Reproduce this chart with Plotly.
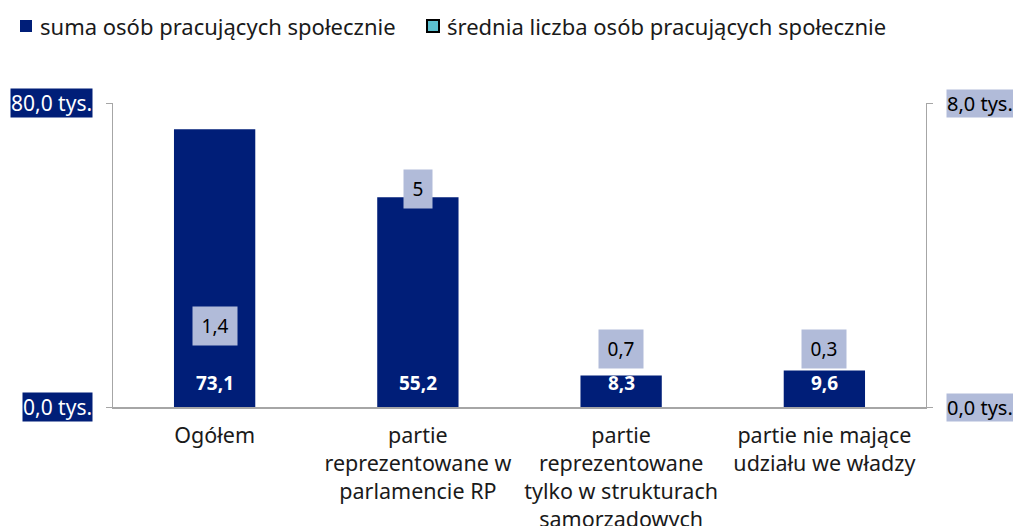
import plotly.graph_objects as go

categories = ["Ogółem", "partie<br>reprezentowane w<br>parlamencie RP",
              "partie<br>reprezentowane<br>tylko w strukturach<br>samorządowych",
              "partie nie mające<br>udziału we władzy"]
suma = [73.1, 55.2, 8.3, 9.6]          # tys.
srednia = [1.4, 5, 0.7, 0.3]
srednia_labels = ["1,4", "5", "0,7", "0,3"]
left_ticks = [0, 80]
left_tick_labels = ["0,0 tys.", "80,0 tys."]
right_ticks = [0, 8]
right_tick_labels = ["0,0 tys.", "8,0 tys."]
series_names = ["suma osób pracujących społecznie", "średnia liczba osób pracujących społecznie"]

NAVY = "#001E78"
LGRAY = "#B1BBD9"
CYAN = "#5BC0CF"
TXT = "#1a1a1a"
FONT = "Noto Sans"

fig = go.Figure()
fig.add_trace(go.Bar(x=categories, y=suma, name=series_names[0], marker_color=NAVY,
                     marker_line_width=0, width=0.4, yaxis="y", showlegend=False))
fig.add_trace(go.Scatter(x=categories, y=srednia, yaxis="y2", mode="markers", name=series_names[1],
                         marker=dict(size=0.1, opacity=0), showlegend=False, hoverinfo="skip"))

ann = []
shapes = []
# manual legend
leg_x = [-93, 314]
leg_fill = [NAVY, CYAN]
leg_line = [NAVY, "black"]
for name, lx, fc, lc in zip(series_names, leg_x, leg_fill, leg_line):
    shapes.append(dict(type="rect", xref="paper", yref="paper", xsizemode="pixel", ysizemode="pixel",
                       xanchor=0, yanchor=1, x0=lx, x1=lx + 12, y0=71, y1=83,
                       fillcolor=fc, line=dict(color=lc, width=2 if lc == "black" else 0)))
    ann.append(dict(x=0, y=1, xref="paper", yref="paper", text=name, showarrow=False,
                    xanchor="left", yanchor="middle", xshift=lx + 18, yshift=77,
                    font=dict(family=FONT, size=22, color=TXT)))

for c, v in zip(categories, suma):
    ann.append(dict(x=c, y=0, xref="x", yref="y", text="<b>" + f"{v:.1f}".replace(".", ",") + "</b>",
                    showarrow=False, yanchor="middle", yshift=24,
                    font=dict(family=FONT, size=19, color="white")))
for c, v, t in zip(categories, srednia, srednia_labels):
    ann.append(dict(x=c, y=max(v, 0.8), xref="x", yref="y2", text=t, showarrow=False,
                    yanchor="middle", yshift=28, bgcolor=LGRAY, borderpad=6,
                    width=max(16, 10 * len(t) + 2),
                    font=dict(family=FONT, size=19, color="black")))
for v, t in zip(left_ticks, left_tick_labels):
    ann.append(dict(x=0, y=v, xref="paper", yref="y", text=t, showarrow=False,
                    xanchor="right", yanchor="middle", xshift=-20, bgcolor=NAVY, borderpad=0,
                    font=dict(family=FONT, size=21, color="white")))
for v, t in zip(right_ticks, right_tick_labels):
    ann.append(dict(x=1, y=v, xref="paper", yref="y2", text=t, showarrow=False,
                    xanchor="left", yanchor="middle", xshift=20, bgcolor=LGRAY, borderpad=0,
                    font=dict(family=FONT, size=20, color="black")))

fig.update_layout(
    width=1013, height=518,
    margin=dict(l=105, r=95, t=95, b=119),
    paper_bgcolor="white", plot_bgcolor="white",
    font=dict(family=FONT, size=21, color=TXT),
    showlegend=False,
    xaxis=dict(showgrid=False, showline=True, linecolor="#A6A6A6", linewidth=2,
               ticks="", automargin=False, ticklabelstandoff=8,
               tickfont=dict(family=FONT, size=21.5, color=TXT)),
    yaxis=dict(range=[0, 80], tickvals=left_ticks, showticklabels=False, showgrid=False,
               zeroline=False, showline=True, linecolor="#A6A6A6", linewidth=1,
               ticks="outside", ticklen=6, tickcolor="#A6A6A6", automargin=False),
    yaxis2=dict(range=[0, 8], tickvals=right_ticks, showticklabels=False, showgrid=False,
                zeroline=False, overlaying="y", side="right", showline=True, automargin=False,
                linecolor="#A6A6A6", linewidth=1, ticks="outside", ticklen=6, tickcolor="#A6A6A6"),
    annotations=ann,
    shapes=shapes,
)
fig.write_html("out.html")
